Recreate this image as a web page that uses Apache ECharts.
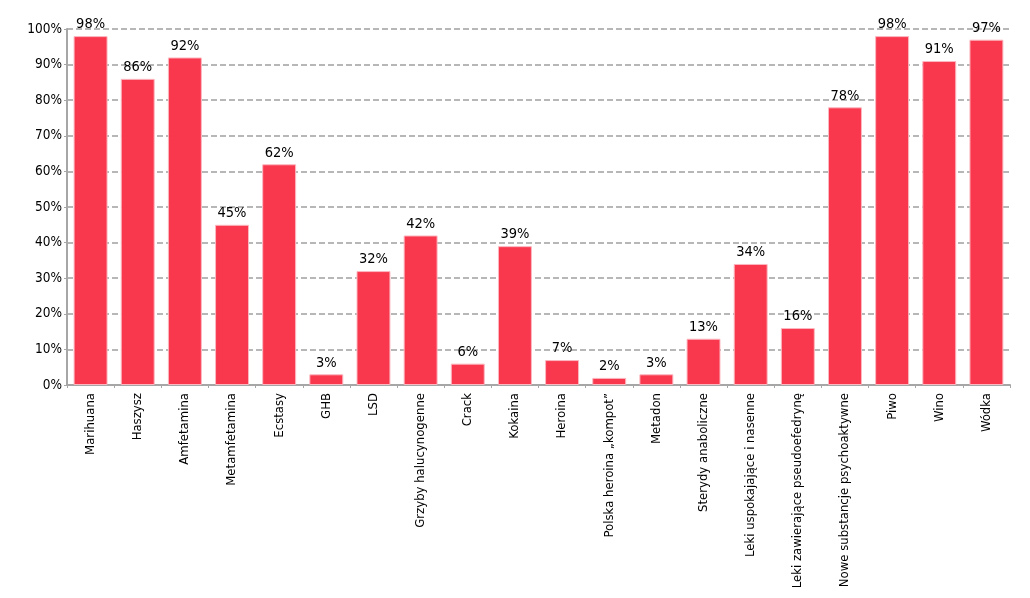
<!DOCTYPE html>
<html><head><meta charset="utf-8">
<script src="https://cdn.jsdelivr.net/npm/echarts@6/dist/echarts.min.js"></script>
<style>html,body{margin:0;padding:0;background:#fff}#c{width:1030px;height:598px}</style>
</head><body><div id="c"></div>
<script>
const categories = ["Marihuana","Haszysz","Amfetamina","Metamfetamina","Ecstasy","GHB","LSD","Grzyby halucynogenne","Crack","Kokaina","Heroina","Polska heroina „kompot”","Metadon","Sterydy anaboliczne","Leki uspokajające i nasenne","Leki zawierające pseudoefedrynę","Nowe substancje psychoaktywne","Piwo","Wino","Wódka"];
const values = [98,86,92,45,62,3,32,42,6,39,7,2,3,13,34,16,78,98,91,97];
const yTicks = [0,10,20,30,40,50,60,70,80,90,100];
const FONT = "'DejaVu Sans Condensed', 'Liberation Sans Narrow', sans-serif";
const chart = echarts.init(document.getElementById('c'));
chart.setOption({
  animation:false,
  grid:{left:67,right:20,top:29,bottom:213,containLabel:false,outerBoundsMode:'none'},
  xAxis:{type:'category',data:categories,
    axisLine:{lineStyle:{color:'#a6a6a6',width:2}},
    axisTick:{show:true,length:3,lineStyle:{color:'#a6a6a6'}},
    axisLabel:{rotate:90,interval:0,color:'#000',fontFamily:FONT,fontSize:13,margin:8}},
  yAxis:{type:'value',min:0,max:100,interval:10,
    axisLine:{show:true,lineStyle:{color:'#a6a6a6',width:2}},
    axisTick:{show:true,length:3,lineStyle:{color:'#a6a6a6'}},
    axisLabel:{formatter:v=>yTicks.includes(v)?v+'%':'',color:'#000',fontFamily:FONT,fontSize:13.5,margin:5},
    splitLine:{lineStyle:{color:'#a0a0a0',type:[6,3],width:1.5}}},
  series:[{type:'bar',data:values,barWidth:'72%',
    itemStyle:{color:'#F9374D',borderColor:'#fcb8c0',borderWidth:1},
    label:{show:true,position:'top',formatter:p=>p.value+'%',color:'#000',fontFamily:FONT,fontSize:14.5,distance:4}}]
});
</script></body></html>
